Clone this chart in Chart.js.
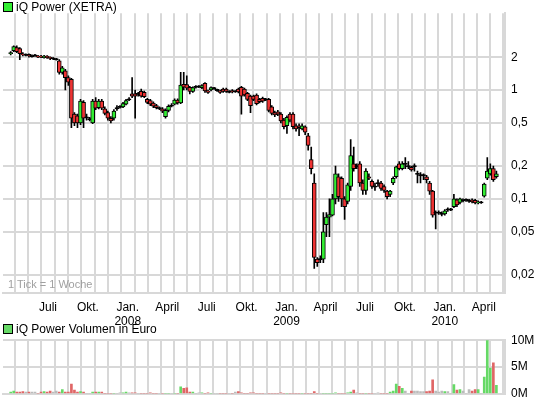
<!DOCTYPE html>
<html><head><meta charset="utf-8">
<script src="https://cdn.jsdelivr.net/npm/chart.js@4"></script>
<style>
body{margin:0;background:#fff;width:545px;height:407px;overflow:hidden;font-family:"Liberation Sans",Arial,sans-serif;}
#c1{position:absolute;left:0;top:0;}
#c2{position:absolute;left:0;top:327px;}
.t{position:absolute;font-size:12px;color:#000;white-space:nowrap;}
.sq{display:inline-block;width:8px;height:8px;border:1px solid #000;margin-right:3px;vertical-align:-1px;}
</style></head><body>
<canvas id="c1" width="545" height="327"></canvas>
<canvas id="c2" width="545" height="80"></canvas>
<div class="t" style="left:3px;top:0px;"><span class="sq" style="background:#33ee33"></span>iQ Power (XETRA)</div>
<div class="t" style="left:8px;top:278px;color:#a0a0a0;font-size:11px;">1 Tick = 1 Woche</div>
<div class="t" style="left:3px;top:322px;"><span class="sq" style="background:#66d966"></span>iQ Power Volumen in Euro</div>
<script>
const openP=[2.15,2.3,2.45,2.4,2.15,2.1,2.12,2.05,2.08,2.05,2.05,1.98,2.05,2.0,1.95,1.92,1.85,1.45,1.5,1.3,1.25,0.6,0.58,0.5,0.77,0.56,0.54,0.5,0.79,0.69,0.79,0.67,0.62,0.55,0.55,0.68,0.7,0.7,0.74,0.82,0.92,0.92,0.92,0.97,0.95,0.82,0.8,0.76,0.72,0.68,0.67,0.57,0.65,0.72,0.74,0.81,0.76,1.13,1.12,1.06,0.97,1.07,1.08,1.05,1.15,0.98,1.0,1.04,1.0,0.98,1.02,1.02,0.96,0.99,0.97,1.02,1.06,1.02,0.93,0.88,0.88,0.9,0.82,0.84,0.82,0.82,0.7,0.62,0.63,0.6,0.53,0.47,0.6,0.6,0.47,0.47,0.44,0.46,0.38,0.23,0.14,0.028,0.028,0.028,0.058,0.068,0.071,0.1,0.16,0.155,0.1,0.095,0.13,0.21,0.2,0.21,0.14,0.12,0.16,0.145,0.13,0.14,0.14,0.13,0.118,0.11,0.14,0.16,0.21,0.19,0.21,0.2,0.195,0.2,0.17,0.165,0.165,0.16,0.14,0.118,0.075,0.075,0.073,0.073,0.08,0.08,0.085,0.098,0.093,0.097,0.098,0.096,0.098,0.097,0.092,0.093,0.106,0.155,0.17,0.19,0.16];
const closeP=[2.2,2.5,2.25,2.15,2.1,2.1,2.05,2.05,2.08,2.0,2.0,2.05,1.98,1.95,1.95,1.92,1.45,1.6,1.3,1.18,0.55,0.5,0.5,0.79,0.55,0.56,0.54,0.79,0.68,0.79,0.68,0.61,0.55,0.52,0.64,0.68,0.7,0.75,0.8,0.82,0.88,0.88,0.92,0.88,0.87,0.77,0.74,0.71,0.69,0.68,0.64,0.65,0.71,0.72,0.81,0.76,1.11,1.06,1.04,0.97,1.05,1.07,1.08,1.1,0.98,0.95,1.05,1.04,1.0,0.95,0.97,0.97,0.96,0.96,0.97,0.96,0.88,0.9,0.82,0.72,0.82,0.75,0.78,0.79,0.82,0.65,0.61,0.59,0.6,0.52,0.46,0.56,0.53,0.46,0.44,0.45,0.47,0.41,0.31,0.19,0.029,0.026,0.028,0.05,0.068,0.072,0.1,0.17,0.105,0.1,0.085,0.135,0.25,0.19,0.2,0.14,0.12,0.18,0.155,0.13,0.13,0.14,0.125,0.12,0.105,0.118,0.155,0.197,0.19,0.21,0.21,0.2,0.185,0.2,0.17,0.165,0.165,0.15,0.118,0.071,0.075,0.075,0.073,0.078,0.08,0.08,0.1,0.088,0.1,0.097,0.098,0.096,0.094,0.092,0.094,0.093,0.137,0.18,0.19,0.15,0.17];
const highP=[2.25,2.55,2.55,2.45,2.2,2.15,2.15,2.1,2.12,2.08,2.08,2.08,2.07,2.02,1.98,1.95,1.9,1.65,1.55,1.35,1.28,0.62,0.6,0.82,0.8,0.6,0.56,0.82,0.85,0.82,0.82,0.7,0.64,0.57,0.66,0.72,0.72,0.77,0.82,0.85,1.3,1.0,0.95,1.02,0.98,0.84,0.82,0.78,0.74,0.7,0.69,0.67,0.73,0.75,0.83,0.83,1.45,1.45,1.35,1.08,1.07,1.1,1.1,1.12,1.17,1.0,1.07,1.06,1.02,1.0,1.04,1.04,0.99,1.01,0.99,1.04,1.08,1.04,0.95,0.9,0.9,0.92,0.84,0.86,0.84,0.84,0.72,0.64,0.65,0.62,0.55,0.58,0.62,0.62,0.49,0.49,0.49,0.47,0.4,0.3,0.17,0.029,0.03,0.075,0.075,0.1,0.11,0.2,0.17,0.16,0.105,0.14,0.35,0.3,0.21,0.22,0.15,0.19,0.17,0.15,0.14,0.15,0.145,0.135,0.12,0.12,0.16,0.2,0.22,0.22,0.24,0.22,0.2,0.21,0.18,0.175,0.17,0.165,0.145,0.12,0.078,0.078,0.076,0.08,0.083,0.082,0.11,0.1,0.102,0.1,0.1,0.099,0.1,0.099,0.096,0.095,0.14,0.24,0.21,0.2,0.18];
const lowP=[2.1,2.25,2.2,1.9,2.05,2.05,2.0,2.0,2.03,1.98,1.98,1.96,1.95,1.9,1.9,1.88,1.4,1.4,1.0,1.1,0.45,0.47,0.45,0.48,0.45,0.53,0.52,0.49,0.66,0.67,0.66,0.59,0.53,0.5,0.53,0.65,0.68,0.69,0.73,0.8,0.85,0.55,0.88,0.86,0.85,0.75,0.72,0.69,0.67,0.66,0.62,0.55,0.63,0.7,0.73,0.74,0.75,1.0,1.0,0.92,0.95,1.04,1.05,1.03,0.95,0.93,0.98,1.01,0.97,0.93,0.95,0.95,0.94,0.94,0.95,0.94,0.6,0.88,0.8,0.62,0.8,0.73,0.76,0.77,0.8,0.63,0.59,0.57,0.58,0.5,0.44,0.4,0.51,0.44,0.42,0.38,0.43,0.39,0.28,0.17,0.023,0.024,0.026,0.026,0.045,0.045,0.07,0.09,0.095,0.085,0.065,0.09,0.12,0.18,0.19,0.13,0.11,0.11,0.15,0.125,0.12,0.13,0.12,0.115,0.1,0.105,0.135,0.155,0.185,0.185,0.19,0.19,0.18,0.18,0.14,0.14,0.15,0.14,0.11,0.068,0.053,0.072,0.07,0.071,0.077,0.078,0.083,0.085,0.09,0.094,0.095,0.093,0.092,0.09,0.09,0.091,0.104,0.15,0.165,0.145,0.155];
const volumeM=[0.3,0.5,0.3,0.3,0.4,0.3,0.3,0.3,0.3,0,0.3,0.4,0.3,0.5,0.3,0.5,0.3,0.8,0.3,0.3,1.8,0.7,0.3,0.4,0.3,0,0,0.3,0.3,0.3,0.3,0,0,0,0,0,0.2,0.2,0.3,0.2,0.2,0.2,0,0,0,0,0.2,0,0,0,0,0,0,0,0,0,1.3,1.0,1.1,0.3,0.3,0,0.2,0.2,0,0.2,0,0,0,0,0,0,0,0,0.3,0.4,0.2,0,0,0.2,0.2,0,0,0,0,0,0,0,0,0.2,0,0,0,0,0,0,0,0,0,0,0.4,0,0,0,0,0,0,0.2,0,0,0,0.2,0.3,0.7,0.2,0,0,0,0,0,0,0.2,0,0,0,0.3,0.5,1.8,1.4,1.0,0.5,0,0.5,0.5,0.5,0.4,0.4,0.4,0.5,2.6,0.5,0.3,0.5,0.4,0.4,0,1.7,0.7,0.8,0.5,0,0.8,0.5,0.8,0.8,0,3.1,10,4.8,5.8,1.6];
const priceTicks=[0.02,0.05,0.1,0.2,0.5,1,2];
const priceTickLabels=['0,02','0,05','0,1','0,2','0,5','1','2'];
const monthNames=['Jan.','Feb','März','April','Mai','Juni','Juli','Aug','Sep','Okt.','Nov','Dez'];
const labelMonths=[0,3,6,9];
const firstWeek=new Date(2007,3,6);

const monthTicks=[];
for(let y=2007;y<=2010;y++)for(let m=0;m<12;m++){
  const d=new Date(y,m,1);const w=(d-firstWeek)/864e5/7;
  if(w>-0.3&&w<160.6){let lab='';if(labelMonths.includes(m))lab=m===0?[monthNames[m],String(y)]:monthNames[m];monthTicks.push({value:w,label:lab});}
}
const N=openP.length;
const wicks=[],bodies=[],bodyCol=[],vols=[],volCol=[];
for(let i=0;i<N;i++){
  wicks.push({x:i,y:[lowP[i],highP[i]]});
  const o=openP[i],c=closeP[i];
  if(o===c){bodies.push({x:i,y:[c/1.012,c*1.012]});bodyCol.push('#000');volCol.push('#bbbbbb');}
  else{bodies.push({x:i,y:[o,c]});bodyCol.push(c>o?'#33ee33':'#ee3333');volCol.push(c>o?'#66d966':'#e06666');}
  vols.push({x:i,y:volumeM[i]});
}
const gridC='#d8d8d8';
const font={family:'"Liberation Sans", Arial, sans-serif',size:12};
function xScale(showLabels,h){return{type:'linear',min:-0.3,max:160.6,
  afterBuildTicks:s=>{s.ticks=monthTicks.map(t=>({value:t.value}));},
  afterFit:s=>{s.height=h;},
  ticks:{display:showLabels,autoSkip:false,maxRotation:0,color:'#000',font,padding:7,callback:(v,i)=>monthTicks[i]?monthTicks[i].label:''},
  grid:{color:gridC,lineWidth:2,drawTicks:false},border:{color:gridC,width:2}};}
Chart.defaults.animation=false;
new Chart(document.getElementById('c1'),{type:'bar',
 data:{datasets:[
  {data:bodies,backgroundColor:bodyCol,borderColor:'#000',borderWidth:1,borderSkipped:false,barThickness:4,grouped:false,order:0},
  {data:wicks,backgroundColor:'#000',borderWidth:0,barThickness:1,grouped:false,order:1}]},
 options:{responsive:false,layout:{padding:{left:3,top:13,right:0}},
  plugins:{legend:{display:false},tooltip:{enabled:false}},
  scales:{x:xScale(true,34),
   y:{type:'logarithmic',position:'right',min:0.0137,max:5.07,
    afterBuildTicks:s=>{s.ticks=priceTicks.map(v=>({value:v}));},
    afterFit:s=>{s.width=40;},
    ticks:{color:'#000',font,padding:6,callback:(v,i)=>priceTickLabels[i]},
    grid:{color:gridC,lineWidth:2,drawTicks:false},border:{color:gridC,width:2}}}}});
new Chart(document.getElementById('c2'),{type:'bar',
 data:{datasets:[{data:vols,backgroundColor:volCol,borderWidth:0,barThickness:2}]},
 options:{responsive:false,layout:{padding:{left:3,top:5,right:0}},
  plugins:{legend:{display:false},tooltip:{enabled:false}},
  scales:{x:xScale(false,9),
   y:{position:'right',min:0,max:10,
    afterBuildTicks:s=>{s.ticks=[0,5,10].map(v=>({value:v}));},
    afterFit:s=>{s.width=40;},
    ticks:{color:'#000',font,padding:6,callback:v=>v+'M'},
    grid:{color:gridC,lineWidth:2,drawTicks:false},border:{color:gridC,width:2}}}}});
</script></body></html>
